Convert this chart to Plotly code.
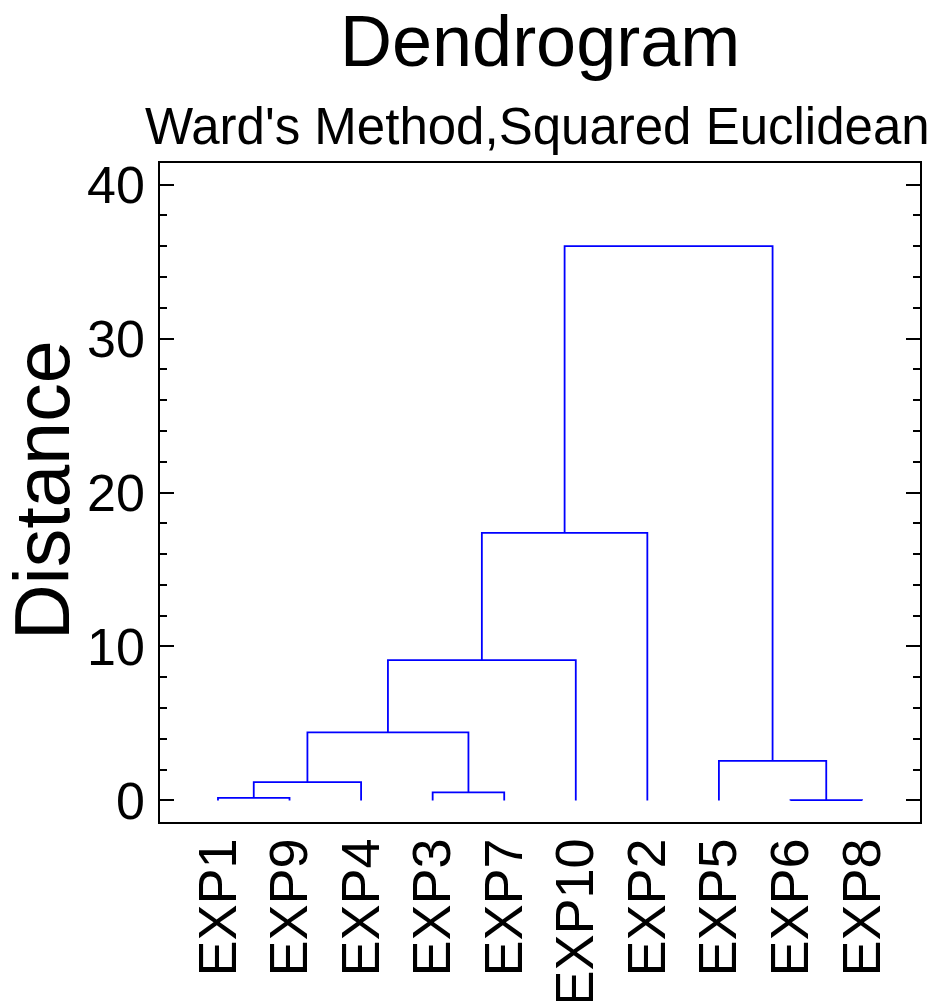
import plotly.graph_objects as go

# Leaf order along the x axis
leaf_labels = ["EXP1", "EXP9", "EXP4", "EXP3", "EXP7", "EXP10", "EXP2", "EXP5", "EXP6", "EXP8"]

# Agglomeration steps (cluster Ck is the result of step k)
merge_left = ["EXP6", "EXP1", "EXP3", "C2", "EXP5", "C4", "C6", "C7", "C8"]
merge_right = ["EXP8", "EXP9", "EXP7", "EXP4", "C1", "C3", "EXP10", "EXP2", "C5"]
merge_height = [0.02, 0.17, 0.52, 1.19, 2.57, 4.42, 9.11, 17.38, 36.0]

# y axis ticks
y_tickvals = [0, 10, 20, 30, 40]

FONT = "Liberation Sans, Arial, sans-serif"

# positions/heights of nodes
pos = {lab: i + 1 for i, lab in enumerate(leaf_labels)}
hgt = {lab: 0.0 for lab in leaf_labels}

xs, ys = [], []
for k, (a, b, h) in enumerate(zip(merge_left, merge_right, merge_height), start=1):
    xa, xb = pos[a], pos[b]
    xs += [xa, xa, xb, xb, None]
    ys += [hgt[a], h, h, hgt[b], None]
    name = f"C{k}"
    pos[name] = (xa + xb) / 2
    hgt[name] = h

fig = go.Figure()
fig.add_trace(go.Scatter(x=xs, y=ys, mode="lines",
                         line=dict(color="#0000FF", width=1.8),
                         hoverinfo="skip", showlegend=False))

fig.update_layout(
    width=941, height=1001,
    margin=dict(l=160, r=21, t=163, b=179, autoexpand=False),
    paper_bgcolor="white", plot_bgcolor="white",
    font=dict(family=FONT, color="black"),
    showlegend=False,
)

fig.update_xaxes(
    range=[0.19, 10.81],
    automargin=False,
    tickmode="array",
    tickvals=list(range(1, len(leaf_labels) + 1)),
    ticktext=leaf_labels,
    tickangle=-90,
    tickfont=dict(size=54, family=FONT, color="black"),
    ticks="",
    showline=True, linecolor="black", linewidth=1.5, mirror=True,
    showgrid=False, zeroline=False,
    ticklabelstandoff=-7,
)

fig.update_yaxes(
    range=[-1.4, 41.4],
    automargin=False,
    tickmode="array",
    tickvals=y_tickvals,
    tickfont=dict(size=52, family=FONT, color="black"),
    ticks="inside", ticklen=14, tickwidth=1.5, tickcolor="black",
    minor=dict(dtick=2, ticks="inside", ticklen=7, tickwidth=1.5, tickcolor="black"),
    showline=True, linecolor="black", linewidth=1.5, mirror="ticks",
    showgrid=False, zeroline=False,
    ticklabelstandoff=3,
)

fig.add_annotation(text="Dendrogram", xref="paper", yref="paper",
                   x=0.5, y=822 / 659, xanchor="center", yanchor="top",
                   borderpad=0,
                   showarrow=False, font=dict(size=72, family=FONT, color="black"))
fig.add_annotation(text="Ward's Method,Squared Euclidean", xref="paper", yref="paper",
                   x=0.497, y=1.056, xanchor="center", yanchor="middle",
                   showarrow=False, font=dict(size=51, family=FONT, color="black"))
fig.add_annotation(text="Distance", xref="paper", yref="paper",
                   x=-0.155, y=0.504, xanchor="center", yanchor="middle",
                   textangle=-90,
                   showarrow=False, font=dict(size=77, family=FONT, color="black"))

fig.write_html("out.html")
